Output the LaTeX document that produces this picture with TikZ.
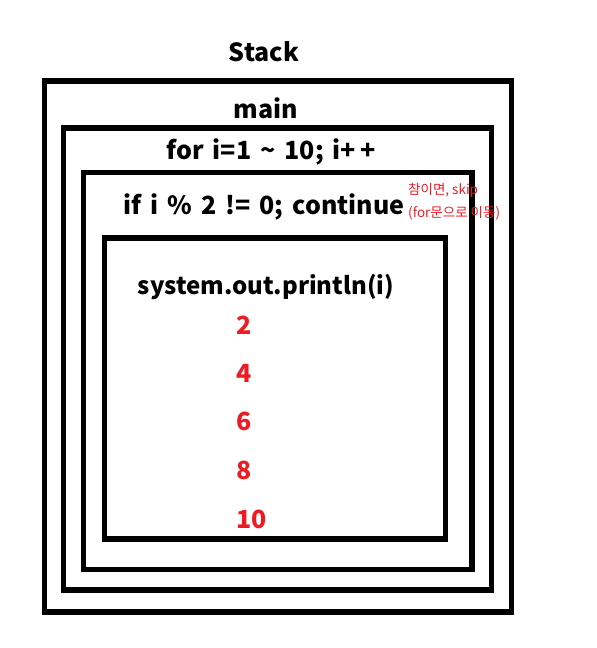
\documentclass[tikz,border=0pt]{standalone}
\usepackage{fontspec}
\setmainfont{Noto Sans CJK KR}
\definecolor{paintred}{RGB}{237,28,36}
\begin{document}
\begin{tikzpicture}[x=1pt,y=-1pt,
    frame/.style={line width=5.3pt},
    title/.style={font=\fontsize{25}{30}\selectfont\bfseries, inner sep=0pt},
    num/.style={font=\fontsize{25}{30}\selectfont\bfseries, text=paintred, anchor=west, inner sep=0pt},
    note/.style={font=\fontsize{13.5}{16}\selectfont, text=paintred, anchor=west, inner sep=0pt}]
\useasboundingbox (0,0) rectangle (597,648);
% nested frames
\draw[frame] (44.5,81) rectangle (511.5,612);
\draw[frame] (63.5,128) rectangle (491.5,590);
\draw[frame] (83.5,172.5) rectangle (472,569.5);
\draw[frame] (104.5,238) rectangle (445.5,539);
% labels
\node[title] (stack) at (264,52) {Stack};
\node[title] (main) at (266,108) {main};
\node[title] (for) at (271,152) {\spaceskip=9pt for i=1 \char`\~{} 10; i+\kern4pt+};
\node[title] (if) at (264,207) {\spaceskip=9pt if i \% 2 != 0; continue};
\node[note] (skip) at (408,190) {참이면, skip};
\node[note] (move) at (408,213) {(for문으로 이동)};
\node[title, font=\fontsize{24}{30}\selectfont\bfseries] (print) at (266,287) {system.out.println(i)};
\foreach \n/\y in {2/325,4/373,6/421,8/470,10/519}
{   \node[num] (out\n) at (236,\y) {\n};
}
\end{tikzpicture}
\end{document}
